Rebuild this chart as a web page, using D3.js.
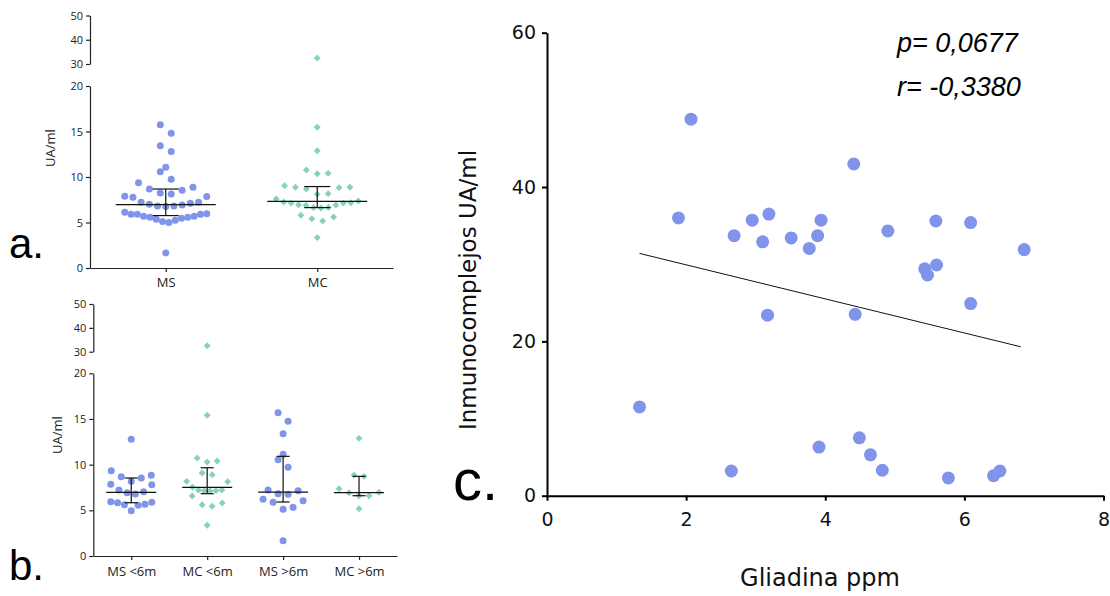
<!DOCTYPE html>
<html><head><meta charset="utf-8">
<script src="https://cdn.jsdelivr.net/npm/d3@7"></script>
<style>body{margin:0;background:#fff}</style>
</head><body>
<svg id="chart" width="1110" height="596"></svg>
<script>
// ---------- DATA ----------
const catsA = ["MS", "MC"];
const msA = [15.75,14.8,13.44,12.8,11.07,10.58,9.75,9.38,8.87,8.54,8.14,7.85,7.77,7.88,8.25,8.68,7.22,7.11,6.93,6.82,6.75,6.82,7.0,7.22,6.12,5.97,5.9,5.9,5.9,5.68,5.68,5.57,5.57,5.46,5.35,5.24,5.1,4.99,1.65];
const mcA = [32.5,15.46,12.89,10.77,10.36,10.4,8.87,8.83,8.68,8.87,9.05,8.17,8.1,7.36,7.58,7.14,7.14,6.92,6.64,6.6,6.64,6.88,6.96,7.18,7.25,5.79,5.42,5.17,5.61,3.34];
const medA = [6.97, 7.33];
const loA = [5.76, 6.64];
const hiA = [8.68, 8.95];

const catsB = ["MS <6m", "MC <6m", "MS >6m", "MC >6m"];
const msLt6 = [12.77,9.34,8.68,8.54,8.83,8.17,7.85,7.80,7.22,6.93,6.79,7.04,5.94,5.83,5.62,5.55,5.66,5.88,4.96];
const mcLt6 = [32.5,15.4,10.73,10.29,10.4,8.9,9.08,8.13,8.17,7.22,7.15,7.11,7.15,7.22,7.52,6.57,5.62,5.44,5.80,3.36];
const msGt6 = [15.69,14.74,13.39,11.13,10.54,9.71,7.15,6.75,6.82,7.22,6.05,5.88,6.2,5.33,5.11,1.68];
const mcGt6 = [12.88,8.72,8.87,6.97,6.6,6.6,6.93,7.37,5.18];
const medB = [6.97, 7.52, 7.0, 6.93];
const loB = [5.83, 6.82, 5.91, 6.6];
const hiB = [8.54, 9.66, 10.91, 8.72];

const yTicksLow = [0, 5, 10, 15, 20];
const yTicksHigh = [30, 40, 50];

const gliadina = [2.07,4.41,1.89,2.95,3.19,3.94,2.69,3.10,3.51,3.89,3.77,4.90,5.59,6.09,6.86,5.43,5.60,5.47,6.09,3.17,4.43,1.33,3.91,4.49,4.65,4.82,2.65,5.77,6.42,6.51];
const inmuno   = [48.8,43.0,36.0,35.7,36.5,35.7,33.7,32.9,33.4,33.7,32.05,34.3,35.6,35.4,31.9,29.4,29.9,28.6,24.9,23.4,23.5,11.5,6.3,7.5,5.3,3.3,3.2,2.3,2.6,3.2];
const fitX = [1.33, 6.81];
const fitY = [31.4, 19.3];
const xTicksC = [0, 2, 4, 6, 8];
const yTicksC = [0, 20, 40, 60];

// ---------- STYLE ----------
const BLUE = "#7f94ea";
const GREEN = "#86d3b6";
const SMALLFONT = "'Open Sans', 'DejaVu Sans', sans-serif";
const BIGFONT = "'DejaVu Sans', 'Open Sans', sans-serif";

const svg = d3.select("#chart");

// beeswarm-like row layout (Prism style)
function swarm(values, rowH, maxSp, span) {
  const pts = values.map(v => ({v})).sort((a, b) => a.v - b.v);
  const rows = []; let cur = null;
  for (const p of pts) {
    if (!cur || p.v - cur[0].v > rowH) { cur = []; rows.push(cur); }
    cur.push(p);
  }
  rows.forEach(r => {
    const n = r.length;
    const sp = n > 1 ? Math.min(maxSp, span / (n - 1)) : 0;
    r.forEach((p, i) => {
      let k;
      if (n % 2 === 1) k = i === 0 ? 0 : (i % 2 === 1 ? (i + 1) / 2 : -i / 2);
      else k = i % 2 === 0 ? (i / 2 + 0.5) : -((i - 1) / 2 + 0.5);
      p.dx = k * sp;
    });
  });
  return pts;
}

function dotPanel(cfg) {
  const g = svg.append("g");
  const yLow = d3.scaleLinear().domain([0, 20]).range([cfg.y0, cfg.y20]);
  const yHigh = d3.scaleLinear().domain([30, 50]).range([cfg.y30, cfg.y50]);
  const y = v => v <= 20 ? yLow(v) : yHigh(v);
  const x = d3.scalePoint().domain(cfg.cats).range([cfg.xAxis, cfg.xEnd]).padding(0.5);

  const axStyle = sel => {
    sel.selectAll("path,line").attr("stroke", "#222").attr("stroke-width", 1.2);
    sel.selectAll("text").attr("font-family", SMALLFONT).attr("fill", "#222");
  };
  g.append("g").attr("transform", `translate(${cfg.xAxis},0)`)
    .call(d3.axisLeft(yLow).tickValues(yTicksLow).tickSize(4).tickSizeOuter(0).tickPadding(3))
    .call(axStyle).selectAll("text").attr("font-size", 11);
  g.append("g").attr("transform", `translate(${cfg.xAxis},0)`)
    .call(d3.axisLeft(yHigh).tickValues(yTicksHigh).tickSize(4).tickSizeOuter(0).tickPadding(3))
    .call(axStyle).selectAll("text").attr("font-size", 11);
  g.append("g").attr("transform", `translate(0,${cfg.y0})`)
    .call(d3.axisBottom(x).tickSize(4).tickSizeOuter(0).tickPadding(cfg.catPad))
    .call(axStyle).selectAll("text").attr("font-size", 13);

  g.append("text").attr("transform", `translate(${cfg.labX},${cfg.labY}) rotate(-90)`)
    .attr("text-anchor", "middle").attr("font-family", SMALLFONT).attr("font-size", 13)
    .attr("fill", "#222").text("UA/ml");

  cfg.series.forEach((vals, i) => {
    const cx = x(cfg.cats[i]);
    const pts = swarm(vals, cfg.rowH, cfg.maxSp, cfg.span);
    const isMS = i % 2 === 0;
    if (isMS) {
      g.append("g").selectAll("circle").data(pts).join("circle")
        .attr("cx", d => cx + d.dx).attr("cy", d => y(d.v)).attr("r", 3.5).attr("fill", BLUE);
    } else {
      const sym = d3.symbol().type(d3.symbolSquare).size(24);
      g.append("g").selectAll("path").data(pts).join("path")
        .attr("d", sym).attr("fill", GREEN)
        .attr("transform", d => `translate(${cx + d.dx},${y(d.v)}) rotate(45)`);
    }
    // median + error bar
    const k = "#111";
    g.append("line").attr("x1", cx - cfg.medW).attr("x2", cx + cfg.medW)
      .attr("y1", y(cfg.med[i])).attr("y2", y(cfg.med[i])).attr("stroke", k).attr("stroke-width", 1.3);
    g.append("line").attr("x1", cx).attr("x2", cx)
      .attr("y1", y(cfg.lo[i])).attr("y2", y(cfg.hi[i])).attr("stroke", k).attr("stroke-width", 1.2);
    [cfg.lo[i], cfg.hi[i]].forEach(v => {
      g.append("line").attr("x1", cx - cfg.capW).attr("x2", cx + cfg.capW)
        .attr("y1", y(v)).attr("y2", y(v)).attr("stroke", k).attr("stroke-width", 1.2);
    });
  });
}

dotPanel({cats: catsA, series: [msA, mcA], med: medA, lo: loA, hi: hiA,
  xAxis: 90, xEnd: 393, y0: 268, y20: 86, y30: 64, y50: 15.5,
  catPad: 6, labX: 55, labY: 148, rowH: 1.25, maxSp: 10.9, span: 82, medW: 50, capW: 13});

dotPanel({cats: catsB, series: [msLt6, mcLt6, msGt6, mcGt6], med: medB, lo: loB, hi: hiB,
  xAxis: 93.3, xEnd: 397, y0: 556, y20: 373.3, y30: 351.7, y50: 304,
  catPad: 7, labX: 62, labY: 435, rowH: 1.2, maxSp: 10, span: 41, medW: 25, capW: 6.5});

// ---------- Panel c ----------
const gc = svg.append("g");
const xc = d3.scaleLinear().domain([0, 8]).range([547, 1103.5]);
const yc = d3.scaleLinear().domain([0, 60]).range([495.7, 32.7]);
const axC = sel => {
  sel.selectAll("path,line").attr("stroke", "#000").attr("stroke-width", 2);
  sel.selectAll("text").attr("font-family", BIGFONT).attr("font-size", 19).attr("fill", "#111");
};
gc.append("g").attr("transform", "translate(0,495.7)")
  .call(d3.axisBottom(xc).tickValues(xTicksC).tickSize(5).tickSizeOuter(0).tickPadding(12)).call(axC);
gc.append("g").attr("transform", "translate(547,0)")
  .call(d3.axisLeft(yc).tickValues(yTicksC).tickSize(5).tickSizeOuter(0).tickPadding(6)).call(axC);

gc.append("line").attr("x1", xc(fitX[0])).attr("y1", yc(fitY[0]))
  .attr("x2", xc(fitX[1])).attr("y2", yc(fitY[1])).attr("stroke", "#111").attr("stroke-width", 1);

gc.append("g").selectAll("circle").data(gliadina.map((g, i) => [g, inmuno[i]])).join("circle")
  .attr("cx", d => xc(d[0])).attr("cy", d => yc(d[1])).attr("r", 6.5).attr("fill", BLUE);

gc.append("text").attr("x", 820).attr("y", 586).attr("text-anchor", "middle")
  .attr("font-family", BIGFONT).attr("font-size", 24).attr("fill", "#111").text("Gliadina ppm");
gc.append("text").attr("transform", "translate(476,290) rotate(-90)").attr("text-anchor", "middle")
  .attr("font-family", BIGFONT).attr("font-size", 23).attr("fill", "#111").text("Inmunocomplejos UA/ml");

const statFont = "'Liberation Sans', Arial, sans-serif";
gc.append("text").attr("x", 897).attr("y", 52).attr("font-family", statFont).attr("font-style", "italic")
  .attr("font-size", 27).attr("fill", "#000").text("p= 0,0677");
gc.append("text").attr("x", 897).attr("y", 96).attr("font-family", statFont).attr("font-style", "italic")
  .attr("font-size", 27).attr("fill", "#000").text("r= -0,3380");

// panel letters
const letFont = "'Liberation Sans', Arial, sans-serif";
svg.append("text").attr("x", 9).attr("y", 258).attr("font-family", letFont).attr("font-size", 42).attr("fill", "#000").text("a.");
svg.append("text").attr("x", 9).attr("y", 580).attr("font-family", letFont).attr("font-size", 42).attr("fill", "#000").text("b.");
svg.append("text").attr("x", 453).attr("y", 500).attr("font-family", letFont).attr("font-size", 58).attr("fill", "#000").text("c.");
</script>
</body></html>
